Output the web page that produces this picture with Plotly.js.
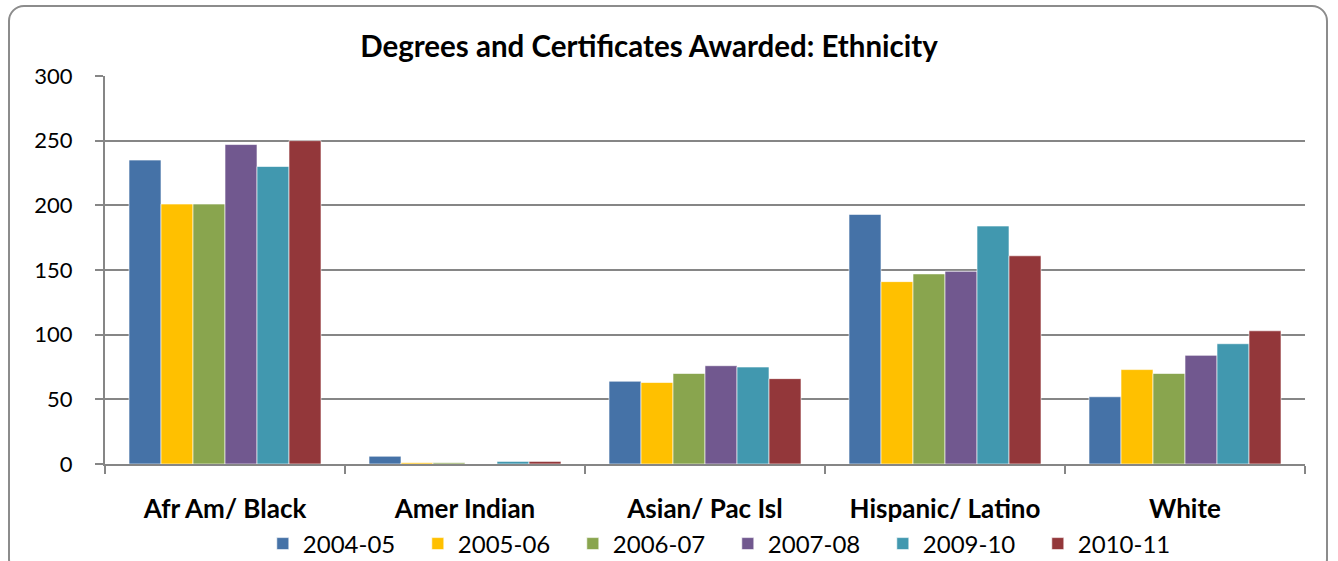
<!DOCTYPE html>
<html>
<head>
<meta charset="utf-8">
<script src="https://cdn.plot.ly/plotly-3.0.1.min.js"></script>
<style>
html,body{margin:0;padding:0;background:#fff;}
#wrap{position:relative;width:1338px;height:561px;overflow:hidden;}
#chart{position:absolute;left:0;top:0;width:1338px;height:561px;}
#frame{position:absolute;left:8px;top:5px;width:1320px;height:570px;border:2px solid #8c8c8c;border-radius:16px;box-sizing:border-box;pointer-events:none;}
</style>
</head>
<body>
<div id="wrap"><div id="chart"></div><div id="frame"></div></div>
<script>
const categories = ["Afr Am/ Black", "Amer Indian", "Asian/ Pac Isl", "Hispanic/ Latino", "White"];
const seriesNames = ["2004-05", "2005-06", "2006-07", "2007-08", "2009-10", "2010-11"];
const v2004_05 = [235, 6, 64, 193, 52];
const v2005_06 = [201, 1, 63, 141, 73];
const v2006_07 = [201, 1, 70, 147, 70];
const v2007_08 = [247, 0, 76, 149, 84];
const v2009_10 = [230, 2, 75, 184, 93];
const v2010_11 = [250, 2, 66, 161, 103];
const seriesValues = [v2004_05, v2005_06, v2006_07, v2007_08, v2009_10, v2010_11];
const colors = ["#4572a7", "#ffc000", "#89a54e", "#71588f", "#4198af", "#93373a"];

const traces = seriesNames.map((n, i) => ({
  type: "bar",
  name: n,
  x: categories,
  y: seriesValues[i],
  marker: {color: colors[i], line: {color: "rgba(255,255,255,0.6)", width: 1}},
  hoverinfo: "x+y+name"
}));

const FONT = "Lato, Liberation Sans, sans-serif";
const layout = {
  width: 1338, height: 561,
  paper_bgcolor: "#ffffff", plot_bgcolor: "#ffffff",
  margin: {l: 105, r: 33, t: 76, b: 97, autoexpand: false},
  font: {family: FONT, color: "#000"},
  title: {
    text: "<b>Degrees and Certificates Awarded: Ethnicity</b>",
    font: {family: FONT, size: 29.5, color: "#000"},
    xref: "container", x: 649/1338, xanchor: "center",
    yref: "container", y: 1 - 47/561, yanchor: "middle"
  },
  barmode: "group", bargap: 0.2, bargroupgap: 0,
  xaxis: {
    type: "category",
    showline: true, linecolor: "#868686", linewidth: 2,
    ticks: "outside", tickson: "boundaries", ticklen: 8, tickcolor: "#868686", tickwidth: 2,
    tickfont: {family: FONT, size: 26, color: "#000"},
    tickprefix: "<b>", ticksuffix: "</b>",
    ticklabelstandoff: 21,
    showgrid: false, zeroline: false
  },
  yaxis: {
    range: [0, 300], dtick: 50,
    showline: true, linecolor: "#868686", linewidth: 2,
    ticks: "outside", ticklen: 8, tickcolor: "#868686", tickwidth: 2,
    tickfont: {family: FONT, size: 22, color: "#000"},
    ticklabelstandoff: 18,
    showgrid: true, gridcolor: "#868686", gridwidth: 2,
    zeroline: false
  },
  legend: {
    orientation: "h",
    x: 0.519, xanchor: "center",
    yref: "container", y: 1 - 544/561, yanchor: "middle",
    font: {family: FONT, size: 24, color: "#000"},
    entrywidth: 110, entrywidthmode: "pixels",
    itemwidth: 30, traceorder: "normal"
  },
  showlegend: true
};

Plotly.newPlot("chart", traces, layout, {displayModeBar: false, staticPlot: true});
</script>
</body>
</html>
